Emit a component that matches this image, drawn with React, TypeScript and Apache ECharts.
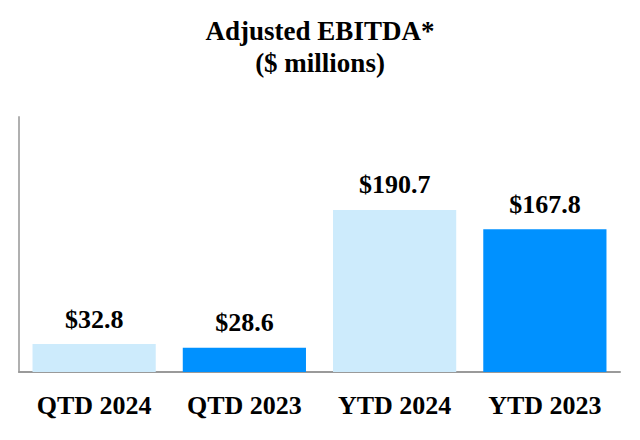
import React, { useEffect, useRef } from "react";
import * as echarts from "echarts";

const categories = ["QTD 2024", "QTD 2023", "YTD 2024", "YTD 2023"];
const values = [32.8, 28.6, 190.7, 167.8];
const barColors = ["#CDEBFC", "#0091FF", "#CDEBFC", "#0091FF"];
const titleLines = ["Adjusted EBITDA*", "($ millions)"];

export default function App() {
  const ref = useRef<HTMLDivElement>(null);
  useEffect(() => {
    const chart = echarts.init(ref.current!, null, { renderer: "svg" });
    const font = "'Liberation Serif', 'Times New Roman', serif";
    chart.setOption({
      animation: false,
      backgroundColor: "#ffffff",
      title: {
        text: titleLines.join("\n"),
        left: "center",
        top: 10,
        textStyle: {
          fontFamily: font,
          fontWeight: "bold",
          fontSize: 27,
          lineHeight: 32,
          color: "#000",
        },
      },
      grid: { left: 19, right: 20, top: 117, bottom: 68 },
      xAxis: {
        type: "category",
        data: categories,
        axisLine: { lineStyle: { color: "#9a9a9a", width: 2 } },
        axisTick: { show: false },
        axisLabel: {
          fontFamily: font,
          fontWeight: "bold",
          fontSize: 26,
          color: "#000",
          margin: 20,
        },
      },
      yAxis: {
        type: "value",
        min: 0,
        max: 300,
        axisLine: { show: true, lineStyle: { color: "#b0b0b0", width: 2 } },
        axisTick: { show: false },
        axisLabel: { show: false },
        splitLine: { show: false },
      },
      series: [
        {
          type: "bar",
          barCategoryGap: "18%",
          data: values.map((v, i) => ({ value: v, itemStyle: { color: barColors[i] } })),
          label: {
            show: true,
            position: "top",
            distance: 12,
            formatter: (p: any) => "$" + p.value.toFixed(1),
            fontFamily: font,
            fontWeight: "bold",
            fontSize: 26,
            color: "#000",
          },
        },
      ],
    });
    return () => chart.dispose();
  }, []);
  return (
    <div
      ref={ref}
      style={{ position: "absolute", left: 0, top: 0, width: 640, height: 440 }}
    />
  );
}
